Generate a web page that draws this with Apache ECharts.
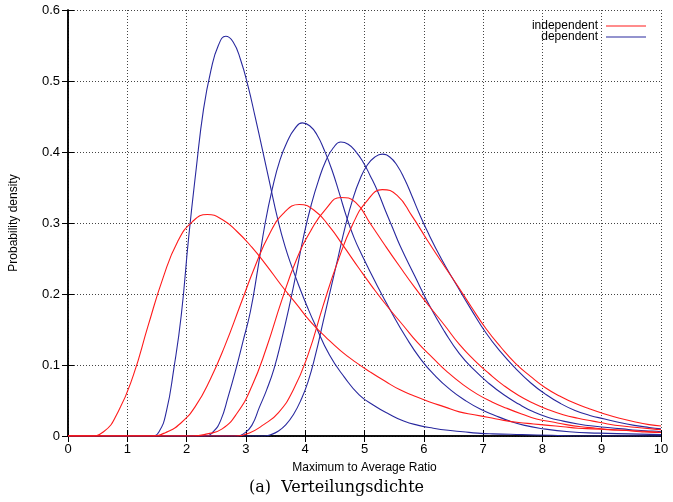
<!DOCTYPE html>
<html>
<head>
<meta charset="utf-8">
<script src="https://cdn.jsdelivr.net/npm/echarts@6/dist/echarts.min.js"></script>
<style>
html,body{margin:0;padding:0;background:#fff;}
#chart{width:673px;height:502px;}
</style>
</head>
<body>
<div id="chart"></div>
<script>
// x ticks and y ticks
const xTicks = [0,1,2,3,4,5,6,7,8,9,10];
const yTicks = [0,0.1,0.2,0.3,0.4,0.5,0.6];

// independent (red) curves, [x, density]
const indep1 = [[0,0],[0.35,0],[0.6,0.006],[0.85,0.035],[1.1,0.085],[1.35,0.155],[1.6,0.222],[1.85,0.274],[2.1,0.302],[2.35,0.312],[2.6,0.305],[2.85,0.288],[3.1,0.266],[3.35,0.24],[3.6,0.212],[3.85,0.186],[4.1,0.16],[4.35,0.139],[4.6,0.12],[4.85,0.104],[5.1,0.09],[5.35,0.077],[5.6,0.065],[5.85,0.056],[6.1,0.048],[6.35,0.041],[6.6,0.034],[6.85,0.03],[7.1,0.026],[7.35,0.022],[7.6,0.019],[7.85,0.017],[8.1,0.015],[8.35,0.013],[8.6,0.011],[8.85,0.01],[9.1,0.009],[9.35,0.008],[9.6,0.007],[9.85,0.006],[10,0.005]];
const indep2 = [[0,0],[1.4,0],[1.65,0.005],[1.9,0.018],[2.15,0.042],[2.4,0.08],[2.65,0.128],[2.9,0.183],[3.15,0.238],[3.4,0.285],[3.65,0.315],[3.9,0.326],[4.15,0.318],[4.4,0.296],[4.65,0.267],[4.9,0.237],[5.15,0.208],[5.4,0.181],[5.65,0.156],[5.9,0.131],[6.15,0.11],[6.4,0.09],[6.65,0.073],[6.9,0.059],[7.15,0.048],[7.4,0.039],[7.65,0.031],[7.9,0.024],[8.15,0.02],[8.4,0.016],[8.65,0.013],[8.9,0.011],[9.15,0.009],[9.4,0.008],[9.65,0.006],[9.9,0.005],[10,0.005]];
const indep3 = [[0,0],[2.1,0],[2.35,0.003],[2.6,0.01],[2.85,0.032],[3.1,0.07],[3.35,0.125],[3.6,0.19],[3.85,0.248],[4.1,0.29],[4.35,0.32],[4.6,0.336],[4.85,0.329],[5.1,0.299],[5.35,0.268],[5.6,0.238],[5.85,0.209],[6.1,0.182],[6.35,0.156],[6.6,0.129],[6.85,0.107],[7.1,0.088],[7.35,0.071],[7.6,0.057],[7.85,0.046],[8.1,0.037],[8.35,0.03],[8.6,0.025],[8.85,0.021],[9.1,0.017],[9.35,0.014],[9.6,0.012],[9.85,0.01],[10,0.009]];
const indep4 = [[0,0],[2.8,0],[3.05,0.004],[3.3,0.016],[3.55,0.033],[3.8,0.065],[4.05,0.115],[4.3,0.183],[4.55,0.246],[4.8,0.298],[5.05,0.332],[5.3,0.347],[5.55,0.339],[5.8,0.31],[6.05,0.277],[6.3,0.245],[6.55,0.214],[6.8,0.182],[7.05,0.151],[7.3,0.125],[7.55,0.102],[7.8,0.084],[8.05,0.068],[8.3,0.056],[8.55,0.046],[8.8,0.038],[9.05,0.031],[9.3,0.025],[9.55,0.02],[9.8,0.016],[10,0.014]];

// dependent (blue) curves, [x, density]
const dep1 = [[0,0],[1.41,0],[1.535,0.006],[1.66,0.035],[1.785,0.095],[1.91,0.17],[2.035,0.28],[2.16,0.375],[2.285,0.46],[2.41,0.515],[2.535,0.55],[2.66,0.563],[2.785,0.555],[2.91,0.53],[3.035,0.493],[3.16,0.448],[3.285,0.401],[3.41,0.353],[3.535,0.306],[3.66,0.267],[3.785,0.236],[3.91,0.208],[4.035,0.182],[4.16,0.158],[4.41,0.114],[4.66,0.083],[4.91,0.058],[5.16,0.043],[5.41,0.031],[5.66,0.021],[5.91,0.015],[6.16,0.011],[6.41,0.008],[6.66,0.006],[6.91,0.004],[7.16,0.003],[7.66,0.002],[8.16,0.001],[8.66,0],[10,0]];
const dep2 = [[0,0],[2.325,0],[2.45,0.006],[2.575,0.022],[2.7,0.055],[2.825,0.092],[2.95,0.133],[3.075,0.175],[3.2,0.235],[3.325,0.3],[3.45,0.35],[3.575,0.389],[3.7,0.415],[3.825,0.433],[3.95,0.441],[4.075,0.437],[4.2,0.424],[4.325,0.402],[4.45,0.375],[4.575,0.342],[4.7,0.308],[4.825,0.279],[4.95,0.256],[5.2,0.214],[5.45,0.175],[5.7,0.139],[5.95,0.108],[6.2,0.084],[6.45,0.065],[6.7,0.05],[6.95,0.038],[7.2,0.029],[7.45,0.021],[7.7,0.015],[7.95,0.011],[8.45,0.006],[8.95,0.004],[9.45,0.003],[10,0.002]];
const dep3 = [[0,0],[2.85,0],[2.975,0.004],[3.1,0.015],[3.225,0.04],[3.35,0.065],[3.475,0.095],[3.6,0.135],[3.725,0.18],[3.85,0.23],[3.975,0.282],[4.1,0.325],[4.225,0.36],[4.35,0.388],[4.475,0.406],[4.6,0.414],[4.725,0.411],[4.85,0.401],[4.975,0.386],[5.1,0.366],[5.225,0.344],[5.35,0.318],[5.475,0.293],[5.6,0.268],[5.85,0.225],[6.1,0.183],[6.35,0.147],[6.6,0.116],[6.85,0.093],[7.1,0.074],[7.35,0.058],[7.6,0.045],[7.85,0.034],[8.1,0.026],[8.35,0.021],[8.6,0.017],[8.85,0.014],[9.1,0.012],[9.35,0.01],[9.6,0.008],[9.85,0.007],[10,0.006]];
const dep4 = [[0,0],[3.3,0],[3.425,0.002],[3.55,0.007],[3.675,0.016],[3.8,0.03],[3.925,0.05],[4.05,0.077],[4.175,0.115],[4.3,0.16],[4.425,0.205],[4.55,0.25],[4.675,0.295],[4.8,0.333],[4.925,0.362],[5.05,0.382],[5.175,0.393],[5.3,0.397],[5.425,0.393],[5.55,0.381],[5.675,0.362],[5.8,0.338],[5.925,0.313],[6.05,0.29],[6.3,0.249],[6.55,0.213],[6.8,0.178],[7.05,0.145],[7.3,0.118],[7.55,0.095],[7.8,0.075],[8.05,0.059],[8.3,0.046],[8.55,0.036],[8.8,0.029],[9.05,0.024],[9.3,0.019],[9.55,0.015],[9.8,0.012],[10,0.01]];

const RED = '#ff1a1a';
const BLUE = '#28289e';
const FONT = 'Liberation Sans, Arial, sans-serif';

function mk(name, data, color) {
  return {
    name: name, type: 'line', data: data, symbol: 'none', showSymbol: false, smooth: 0.5,
    lineStyle: { color: color, width: 1.1 }, itemStyle: { color: color },
    xAxisIndex: 0, yAxisIndex: 0, silent: true, animation: false
  };
}

const chart = echarts.init(document.getElementById('chart'), null, { renderer: 'canvas' });
const gridSplit = { show: true, lineStyle: { color: '#444', type: [1, 2], width: 1 } };
const frameLine = { show: true, lineStyle: { color: '#000', width: 1.5 } };
chart.setOption({
  animation: false,
  backgroundColor: '#fff',
  grid: { left: 67, right: 12, top: 10, bottom: 66, containLabel: false },
  legend: {
    data: [{ name: 'independent', icon: 'rect' }, { name: 'dependent', icon: 'rect' }],
    orient: 'vertical', right: 22, top: 15,
    align: 'right', itemWidth: 40, itemHeight: 1.2, itemGap: -1,
    textStyle: { fontFamily: FONT, fontSize: 12, color: '#000', padding: [0, 3, 0, 0], lineHeight: 12 },
    selectedMode: false
  },
  xAxis: [{
    type: 'value', min: 0, max: 10, interval: 1, position: 'bottom',
    name: 'Maximum to Average Ratio', nameLocation: 'middle', nameGap: 26,
    nameTextStyle: { fontFamily: FONT, fontSize: 12, color: '#000' },
    axisLine: frameLine, axisTick: { show: true, inside: true, length: 6, lineStyle: { color: '#000' } },
    axisLabel: { fontFamily: FONT, fontSize: 13, color: '#000', margin: 7,
      formatter: v => xTicks.includes(v) ? String(v) : '' },
    splitLine: gridSplit
  }, {
    type: 'value', min: 0, max: 10, interval: 1, position: 'top',
    axisLine: frameLine, axisTick: { show: true, inside: true, length: 6, lineStyle: { color: '#000' } },
    axisLabel: { show: false }, splitLine: { show: false }
  }],
  yAxis: [{
    type: 'value', min: 0, max: 0.6, interval: 0.1, position: 'left',
    name: 'Probability density', nameLocation: 'middle', nameGap: 48, nameRotate: 90,
    nameTextStyle: { fontFamily: FONT, fontSize: 12, color: '#000' },
    axisLine: frameLine, axisTick: { show: true, inside: true, length: 6, lineStyle: { color: '#000' } },
    axisLabel: { fontFamily: FONT, fontSize: 13, color: '#000', margin: 8,
      formatter: v => { const t = yTicks.find(k => Math.abs(k - v) < 1e-9); return t === undefined ? '' : (t === 0 ? '0' : t.toFixed(1)); } },
    splitLine: gridSplit
  }, {
    type: 'value', min: 0, max: 0.6, interval: 0.1, position: 'right',
    axisLine: frameLine, axisTick: { show: true, inside: true, length: 6, lineStyle: { color: '#000' } },
    axisLabel: { show: false }, splitLine: { show: false }
  }],
  graphic: [{
    type: 'text', left: 'center', top: 480,
    style: { text: '(a)  Verteilungsdichte', font: '16px "DejaVu Serif", "Liberation Serif", serif', fill: '#000' }
  }],
  series: [
    mk('dependent', dep1, BLUE), mk('dependent', dep2, BLUE), mk('dependent', dep3, BLUE), mk('dependent', dep4, BLUE),
    mk('independent', indep1, RED), mk('independent', indep2, RED), mk('independent', indep3, RED), mk('independent', indep4, RED)
  ]
});
</script>
</body>
</html>
